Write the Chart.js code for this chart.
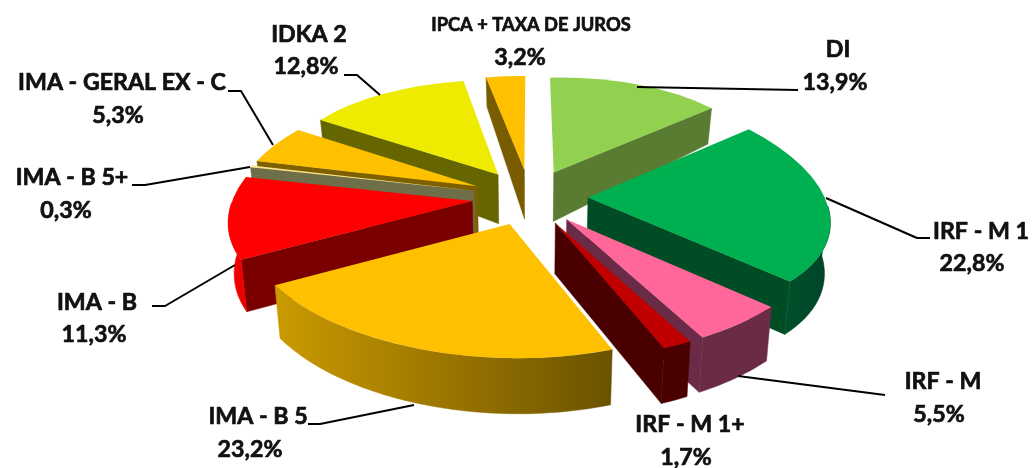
<!DOCTYPE html>
<html><head><meta charset="utf-8">
<style>html,body{margin:0;padding:0;background:#fff}canvas{display:block}</style>
<script src="https://cdn.jsdelivr.net/npm/chart.js@4/dist/chart.umd.js"></script>
</head><body>
<canvas id="c" width="1033" height="468"></canvas>
<script>
const categories=["DI","IRF - M 1","IRF - M","IRF - M 1+","IMA - B 5","IMA - B","IMA - B 5+","IMA - GERAL EX - C","IDKA 2","IPCA + TAXA DE JUROS"];
const values=[13.9,22.8,5.5,1.7,23.2,11.3,0.3,5.3,12.8,3.2];
const topColors=["#92d050","#00b050","#ff6699","#c00000","#ffc000","#ff0000","#f5e28a","#ffc000","#eeea00","#ffc000"];
const wallColors=["#5a7b32","#004d25","#6b2a45","#4a0000","#7f6000","#7a0000","#6e6e48","#7f6000","#666600","#7a5c00"];
const rimLeft=["#5a7b32","#00502a","#6b2a45","#4a0000","#cb9a00","#ff0000","#6e6e48","#a07a00","#666600","#7a5c00"];
const rimRight=["#5a7b32","#00432a","#6b2a45","#4a0000","#6b5200","#e60000","#6e6e48","#7f6000","#666600","#7a5c00"];

// camera of the tilted pie
const cam={cx:530,cy:197,R:240,fx:.15,fy:.1246,squash:.481,explode:58};
function project(U,V){
  const t=V/cam.R;
  return [cam.cx+U*(1+cam.fx*t), cam.cy+cam.squash*V*(1+cam.fy*t)];
}
function wallDepth(y){return y<170?36+(y-109)*.213:49+(y-170)*.035;}
function drop(p){
  return [p[0]+(cam.cx-p[0])*.02, p[1]+wallDepth(p[1])];
}
function fillWall(ctx,pts,style){
  ctx.beginPath();
  pts.forEach((p,i)=>i?ctx.lineTo(p[0],p[1]):ctx.moveTo(p[0],p[1]));
  ctx.closePath();
  ctx.fillStyle=style;ctx.strokeStyle=style;ctx.lineWidth=.5;ctx.fill();ctx.stroke();
}

const pie3d={
  id:'pie3d',
  beforeDatasetDraw(chart,args){
    const ctx=chart.ctx;
    const meta=chart.getDatasetMeta(args.index);
    const slices=meta.data.map((arc,i)=>{
      const mid=(arc.startAngle+arc.endAngle)/2;
      return {arc,i,mid,v:Math.sin(mid)};
    }).sort((p,q)=>p.v-q.v);
    slices.forEach(({arc,i,mid})=>{
      const a0=arc.startAngle,a1=arc.endAngle;
      const eU=cam.explode*Math.cos(mid),eV=cam.explode*Math.sin(mid);
      const P=project(eU,eV);
      const rimPoint=a=>project(eU+cam.R*Math.cos(a),eV+cam.R*Math.sin(a));
      const S=rimPoint(a0),E=rimPoint(a1);
      // affine map of the unit slice onto its apex and two rim ends
      const us=Math.cos(a0),vs=Math.sin(a0),ue=Math.cos(a1),ve=Math.sin(a1);
      const det=us*ve-ue*vs;
      const sx=S[0]-P[0],sy=S[1]-P[1],ex=E[0]-P[0],ey=E[1]-P[1];
      const m={a:(sx*ve-ex*vs)/det,c:(ex*us-sx*ue)/det,b:(sy*ve-ey*vs)/det,d:(ey*us-sy*ue)/det};
      const top=a=>{const u=Math.cos(a),w=Math.sin(a);return [P[0]+m.a*u+m.c*w,P[1]+m.b*u+m.d*w];};
      // cut faces that look at the viewer
      if(Math.cos(a0)<0){fillWall(ctx,[P,top(a0),drop(top(a0)),drop(P)],wallColors[i]);}
      if(Math.cos(a1)>0){fillWall(ctx,[P,top(a1),drop(top(a1)),drop(P)],wallColors[i]);}
      // outer rim
      const twoPi=Math.PI*2;
      let lo=a0,hi=a1,ok=false;
      for(const k of [-1,0,1]){
        const l=Math.max(a0,k*twoPi),h=Math.min(a1,k*twoPi+Math.PI);
        if(h>l){lo=l;hi=h;ok=true;break;}
      }
      if(ok){
        const up=[],dn=[];
        const n=Math.max(4,Math.ceil((hi-lo)*40));
        for(let j=0;j<=n;j++){const p=top(lo+(hi-lo)*j/n);up.push(p);dn.push(drop(p));}
        const xs=up.concat(dn).map(p=>p[0]);
        const g=ctx.createLinearGradient(Math.min(...xs),0,Math.max(...xs),0);
        g.addColorStop(0,rimLeft[i]);g.addColorStop(1,rimRight[i]);
        fillWall(ctx,up.concat(dn.reverse()),g);
      }
      // top face, drawn by the library's own arc element
      const r=arc.outerRadius;
      ctx.save();
      ctx.translate(P[0],P[1]);
      ctx.transform(m.a/r,m.b/r,m.c/r,m.d/r,0,0);
      ctx.translate(-arc.x,-arc.y);
      arc.draw(ctx);
      ctx.restore();
    });
    return false;
  }
};

// captions and their leader lines
const captions=[
 {t:"DI",x:838,y:50},{t:"13,9%",x:835,y:83},
 {t:"IRF - M 1",x:981,y:232},{t:"22,8%",x:972,y:264},
 {t:"IRF - M",x:943,y:382},{t:"5,5%",x:939,y:415},
 {t:"IRF - M 1+",x:690,y:425},{t:"1,7%",x:686,y:458},
 {t:"IMA - B 5",x:258,y:417},{t:"23,2%",x:250,y:450},
 {t:"IMA - B",x:97,y:303},{t:"11,3%",x:94,y:335},
 {t:"IMA - B 5+",x:72,y:178},{t:"0,3%",x:66,y:211},
 {t:"IMA - GERAL EX - C",x:122,y:83},{t:"5,3%",x:118,y:116},
 {t:"IDKA 2",x:309,y:35},{t:"12,8%",x:306,y:67},
 {t:"IPCA + TAXA DE JUROS",x:531,y:25,small:true},{t:"3,2%",x:520,y:58}
];
const leaders=[
 [[637,87],[798,90]],
 [[826,198],[917,238],[930,238]],
 [[738,376],[885,395]],
 [[414,405],[320,424],[308,424]],
 [[235,265],[165,306],[152,306]],
 [[250,167],[145,185],[132,185]],
 [[273,145],[241,91],[228,91]],
 [[380,95],[357,75],[344,75]]
];
const annotate={
  id:'annotate',
  afterDatasetsDraw(chart){
    const ctx=chart.ctx;
    ctx.save();
    ctx.strokeStyle="#000";ctx.lineWidth=2;ctx.lineJoin="round";
    leaders.forEach(l=>{ctx.beginPath();l.forEach((p,i)=>i?ctx.lineTo(p[0],p[1]):ctx.moveTo(p[0],p[1]));ctx.stroke();});
    ctx.fillStyle="#111";ctx.strokeStyle="#111";ctx.lineWidth=.7;ctx.textAlign="center";ctx.textBaseline="middle";
    captions.forEach(c=>{
      ctx.font=(c.small?"bold 18.3px":"bold 23.2px")+" Lato, 'Open Sans', sans-serif";
      ctx.fillText(c.t,c.x,c.y);
      ctx.strokeText(c.t,c.x,c.y);
    });
    ctx.restore();
  }
};

new Chart(document.getElementById('c'),{
  type:'pie',
  data:{labels:categories,datasets:[{data:values,backgroundColor:topColors,borderWidth:0}]},
  options:{
    responsive:false,animation:false,
    plugins:{legend:{display:false},tooltip:{enabled:false},title:{display:false}},
    events:[]
  },
  plugins:[pie3d,annotate]
});
</script>
</body></html>
